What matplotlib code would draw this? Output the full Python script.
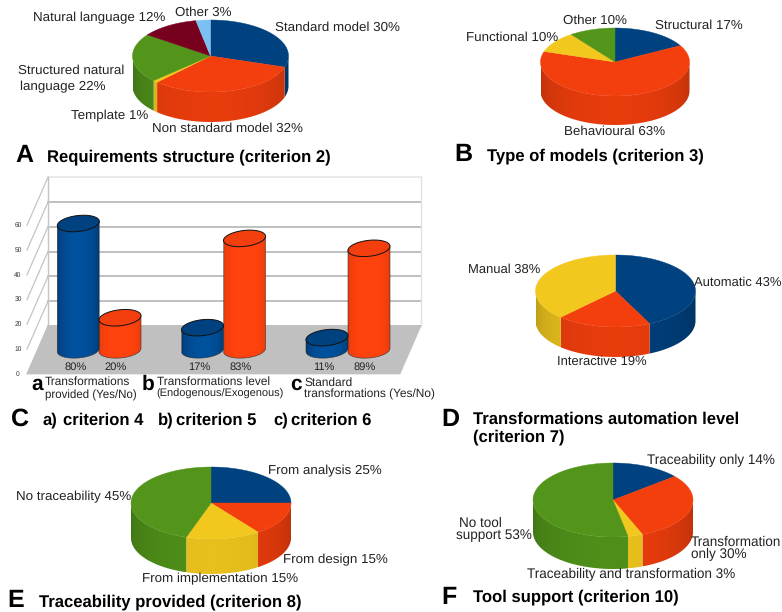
import matplotlib

matplotlib.use("Agg")
import matplotlib.pyplot as plt
import numpy as np
from matplotlib.patches import Polygon

plt.rcParams["font.family"] = ["Liberation Sans", "DejaVu Sans"]
plt.rcParams["text.hinting"] = "none"

BLUE = "#004586"
ORANGE = "#ff420e"
YELLOW = "#ffd320"
GREEN = "#579d1c"
MAROON = "#7e0021"
SKY = "#83caff"

REQ_NAMES = ["Standard model", "Non standard model", "Template", "Structured natural\nlanguage", "Natural language", "Other"]
REQ_VALUES = [30, 32, 1, 22, 12, 3]
REQ_COLORS = [BLUE, ORANGE, YELLOW, GREEN, MAROON, SKY]

MODEL_NAMES = ["Structural", "Behavioural", "Functional", "Other"]
MODEL_VALUES = [17, 63, 10, 10]
MODEL_COLORS = [BLUE, ORANGE, YELLOW, GREEN]

AUTO_NAMES = ["Automatic", "Interactive", "Manual"]
AUTO_VALUES = [43, 19, 38]
AUTO_COLORS = [BLUE, ORANGE, YELLOW]

TRACE_NAMES = ["From analysis", "From design", "From implementation", "No traceability"]
TRACE_VALUES = [25, 15, 15, 45]
TRACE_COLORS = [BLUE, ORANGE, YELLOW, GREEN]

TOOL_NAMES = ["Traceability only", "Transformation\nonly", "Traceability and transformation", "No tool\nsupport"]
TOOL_VALUES = [14, 30, 3, 53]
TOOL_COLORS = [BLUE, ORANGE, YELLOW, GREEN]

# paper counts per criterion, first number is the blue cylinder
BAR_COUNTS = [[51, 13], [9, 45], [5, 41]]
BAR_PERCENTS = [[80, 20], [17, 83], [11, 89]]
AXIS_TICKS = [0, 10, 20, 30, 40, 50, 60]


def shade(color, factor):
    return np.clip(np.array(matplotlib.colors.to_rgb(color)) * factor, 0, 1)


def gradient_wall(ax, outline, cx, rx, color, edge, centre, zorder):
    # horizontal light falloff, clipped to the outline of the wall
    xs = np.linspace(-1, 1, 240)
    factors = edge + (centre - edge) * np.sqrt(1 - xs ** 2)
    strip = np.array([[shade(color, f) for f in factors]])
    ys = outline[:, 1]
    im = ax.imshow(strip, extent=(cx - rx, cx + rx, ys.max(), ys.min()), aspect="auto",
                   interpolation="bilinear", zorder=zorder)
    clip = Polygon(outline, fc="none", ec="none", transform=ax.transData)
    ax.add_patch(clip)
    im.set_clip_path(clip)


def pie3d(ax, cx, cy, rx, ry, depth, values, colors):
    # slices run clockwise from twelve o'clock, the wall shows on the front half only
    edges = np.cumsum([0] + list(values)) / sum(values) * 360.0
    for start, stop, color in zip(edges[:-1], edges[1:], colors):
        lo, hi = max(start, 90), min(stop, 270)
        if hi > lo:
            ts = np.radians(np.linspace(lo, hi, 80))
            top = np.column_stack([cx + rx * np.sin(ts), cy - ry * np.cos(ts)])
            bottom = top[::-1] + [0, depth]
            gradient_wall(ax, np.vstack([top, bottom]), cx, rx, color, 0.74, 0.91, 2)
    for start, stop, color in zip(edges[:-1], edges[1:], colors):
        ts = np.radians(np.linspace(start, stop, 100))
        pts = np.column_stack([cx + rx * np.sin(ts), cy - ry * np.cos(ts)])
        pts = np.vstack([[cx, cy], pts])
        c = shade(color, 0.95)
        ax.add_patch(Polygon(pts, fc=c, ec=c, lw=0.3, zorder=3))


def cylinder(ax, cx, base, height, color, edge, centre):
    rx, ry, tilt = 21, 8, 0.08
    us = np.radians(np.linspace(-90, 90, 61))
    dx = rx * np.sin(us)
    front = np.column_stack([cx + dx, base + ry * np.cos(us) - dx * tilt])
    back = np.column_stack([cx + dx[::-1], base - height - dx[::-1] * tilt])
    outline = np.vstack([front, back])
    gradient_wall(ax, outline, cx, rx, color, edge, centre, 4)
    # thin outline round the wall, then the lid on top
    ax.add_patch(Polygon(outline, fc="none", ec="#333333", lw=0.4, zorder=5))
    ts = np.radians(np.linspace(0, 360, 120))
    dx = rx * np.cos(ts)
    lid = np.column_stack([cx + dx, base - height + ry * np.sin(ts) - dx * 0.1])
    ax.add_patch(Polygon(lid, fc=shade(color, 0.95), ec="#111111", lw=0.7, zorder=6))


def put_labels(ax, names, values, spots, size=9.6):
    for name, value, spot in zip(names, values, spots):
        lines = f"{name} {value}%".split("\n")
        for line, (x, y) in zip(lines, spot):
            ax.text(x, y, line, fontsize=size, color="#222222", ha="left", va="center", zorder=8)


def heading(ax, letter, lx, ly, lines):
    ax.text(lx, ly, letter, fontsize=18, fontweight="bold", color="black", ha="left", va="center")
    for x, y, line in lines:
        ax.text(x, y, line, fontsize=11.95, fontweight="bold", color="black", ha="left", va="center")


fig = plt.figure(figsize=(7.82, 6.12), dpi=100)
ax = fig.add_axes([0, 0, 1, 1])
ax.set_xlim(0, 782)
ax.set_ylim(612, 0)
ax.axis("off")

# A
pie3d(ax, 210.5, 56, 78, 36, 30, REQ_VALUES, REQ_COLORS)
put_labels(ax, REQ_NAMES, REQ_VALUES, [
    [(275, 28)], [(152, 129)], [(71, 116)], [(18, 71), (20, 87)], [(33, 18)], [(175, 13)],
])
heading(ax, "A", 15, 156, [(47, 157, "Requirements structure (criterion 2)")])

# B
pie3d(ax, 615, 62, 74.5, 34, 29, MODEL_VALUES, MODEL_COLORS)
put_labels(ax, MODEL_NAMES, MODEL_VALUES, [
    [(655, 26)], [(564, 132)], [(466, 38)], [(563, 21)],
], size=9.6)
heading(ax, "B", 454, 155, [(487, 156, "Type of models (criterion 3)")])

# C: grey back wall, side wall and floor of the cylinder chart
wall_left, wall_right, wall_floor = 48, 421, 326
front_left, front_right, front_floor = 27, 400, 374
unit = 2.48
for tick in AXIS_TICKS:
    y = wall_floor - tick * unit
    line_color = "#e6e6e6" if tick == AXIS_TICKS[-1] else "#b4b4b4"
    ax.plot([wall_left, wall_right], [y, y], color=line_color, lw=1.2, zorder=1)
    ax.plot([wall_left, front_left], [y, y + front_floor - wall_floor], color="#c4c4c4", lw=0.9, zorder=1)
    ax.text(18, y + front_floor - wall_floor, str(tick), fontsize=4.8, color="#333333",
            ha="center", va="center")
ax.plot([wall_left, wall_left], [wall_floor, wall_floor - 60 * unit], color="#c4c4c4", lw=1.0, zorder=1)
ax.plot([wall_right, wall_right], [wall_floor, wall_floor - 60 * unit], color="#e2e2e2", lw=1.0, zorder=1)
ax.add_patch(Polygon([(wall_left, wall_floor), (wall_right, wall_floor), (front_right, front_floor),
                      (front_left, front_floor)], fc="#c0c0c0", ec="#c0c0c0", lw=0.5, zorder=2))

centres = [(78.3, 120), (202.5, 244.5), (327, 369)]
for (c_blue, c_orange), counts, percents in zip(centres, BAR_COUNTS, BAR_PERCENTS):
    cylinder(ax, c_blue, 350, counts[0] * unit, BLUE, 0.8, 1.18)
    cylinder(ax, c_orange, 350, counts[1] * unit, ORANGE, 0.88, 1.02)
    ax.text(c_blue - 3, 367, f"{percents[0]}%", fontsize=8, color="#222222", ha="center", va="center", zorder=8)
    ax.text(c_orange - 4, 367, f"{percents[1]}%", fontsize=8, color="#222222", ha="center", va="center", zorder=8)

for x, y, letter in [(31, 384, "a"), (142, 384, "b"), (290, 384, "c")]:
    ax.text(x, y, letter, fontsize=15, fontweight="bold", color="black", ha="left", va="center")
for x, y, line, size in [
    (45, 382, "Transformations", 8.6), (45, 395, "provided (Yes/No)", 8.3),
    (157, 382, "Transformations level", 8.6), (156, 394, "(Endogenous/Exogenous)", 7.9),
    (304, 383, "Standard", 8.6), (304, 394, "transformations (Yes/No)", 8.6),
]:
    ax.text(x, y, line, fontsize=size, color="#222222", ha="left", va="center")
heading(ax, "C", 11, 419, [
    (43, 420, "a)"), (63, 420, "criterion 4"),
    (158, 420, "b)"), (176, 420, "criterion 5"),
    (273, 420, "c)"), (291, 420, "criterion 6"),
])

# D
pie3d(ax, 615.5, 291, 80, 36, 30, AUTO_VALUES, AUTO_COLORS)
put_labels(ax, AUTO_NAMES, AUTO_VALUES, [[(694, 283)], [(557, 362)], [(468, 270)]], size=9.35)
heading(ax, "D", 441, 420, [(473, 419, "Transformations automation level"), (473, 437, "(criterion 7)")])

# E
pie3d(ax, 211, 503, 80, 36, 35, TRACE_VALUES, TRACE_COLORS)
put_labels(ax, TRACE_NAMES, TRACE_VALUES, [[(268, 471)], [(283, 560)], [(142, 579)], [(16, 497)]])
heading(ax, "E", 7, 601, [(39, 602, "Traceability provided (criterion 8)")])

# F
pie3d(ax, 613, 500, 80, 37, 32, TOOL_VALUES, TOOL_COLORS)
put_labels(ax, TOOL_NAMES, TOOL_VALUES, [
    [(647, 460)], [(691, 542), (691, 554)], [(527, 574)], [(459, 523), (456, 535)],
], size=9.75)
heading(ax, "F", 441, 598, [(473, 597, "Tool support (criterion 10)")])

ax.set_xlim(0, 782)
ax.set_ylim(612, 0)
fig.savefig("out.png", dpi=100, facecolor="white")
plt.close(fig)
